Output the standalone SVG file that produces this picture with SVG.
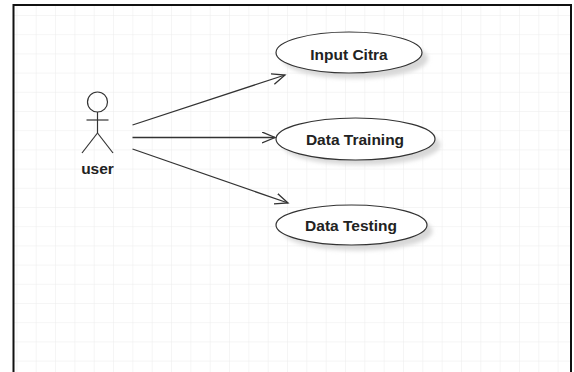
<svg xmlns="http://www.w3.org/2000/svg" width="574" height="372" viewBox="0 0 574 372">
<defs>
<pattern id="grid" x="16.4" y="15" width="19.33" height="19.2" patternUnits="userSpaceOnUse">
<path d="M0,0 V19.2 M0,0 H19.33" fill="none" stroke="#ececec" stroke-width="1"/>
</pattern>
<filter id="blur" x="-20%" y="-50%" width="140%" height="200%"><feGaussianBlur stdDeviation="2"/></filter>
<marker id="open" markerUnits="userSpaceOnUse" markerWidth="16" markerHeight="14" refX="13" refY="6" orient="auto">
<path d="M0,0.5 L13,6 L0,11.5" fill="none" stroke="#333" stroke-width="1.3"/>
</marker>
</defs>
<style>
.uc { fill: #fff; stroke: #333; stroke-width: 1.2; }
.sh { fill: #d8d8d8; filter: url(#blur); }
.lbl { font-family: "Liberation Sans", Arial, sans-serif; font-weight: bold; font-size: 15.5px; fill: #222; text-anchor: middle; }
.actor { fill: none; stroke: #333; stroke-width: 1.2; }
.conn { stroke: #333; stroke-width: 1.3; fill: none; marker-end: url(#open); }
</style>
<rect x="0" y="0" width="574" height="372" fill="#fff"/>
<rect x="13.5" y="5" width="557.5" height="380" fill="url(#grid)"/>
<rect x="13.5" y="5" width="557.5" height="380" fill="none" stroke="#111" stroke-width="2"/>

<g id="actor-user">
<circle class="actor" cx="97.5" cy="102" r="10"/>
<line class="actor" x1="97.5" y1="112" x2="97.5" y2="133"/>
<line class="actor" x1="86.5" y1="120" x2="108.5" y2="120"/>
<line class="actor" x1="97.5" y1="133" x2="82" y2="153"/>
<line class="actor" x1="97.5" y1="133" x2="113" y2="153"/>
<text class="lbl" x="97.5" y="174">user</text>
</g>

<g id="uc-input-citra">
<ellipse class="sh" cx="355" cy="58.5" rx="73" ry="20"/>
<ellipse class="uc" cx="349" cy="52.5" rx="73" ry="20.5"/>
<text class="lbl" x="349" y="59.5">Input Citra</text>
</g>

<g id="uc-data-training">
<ellipse class="sh" cx="361.5" cy="145" rx="79" ry="20"/>
<ellipse class="uc" cx="355.5" cy="139" rx="79.5" ry="21"/>
<text class="lbl" x="355" y="145">Data Training</text>
</g>

<g id="uc-data-testing">
<ellipse class="sh" cx="357.5" cy="231" rx="75" ry="19.5"/>
<ellipse class="uc" cx="351.5" cy="225" rx="75.5" ry="20"/>
<text class="lbl" x="351" y="230.5">Data Testing</text>
</g>

<g id="connectors">
<line class="conn" x1="132.5" y1="125" x2="285" y2="75"/>
<line class="conn" x1="132.5" y1="137.5" x2="275" y2="137.5"/>
<line class="conn" x1="132.5" y1="149" x2="288" y2="203"/>
</g>
</svg>
